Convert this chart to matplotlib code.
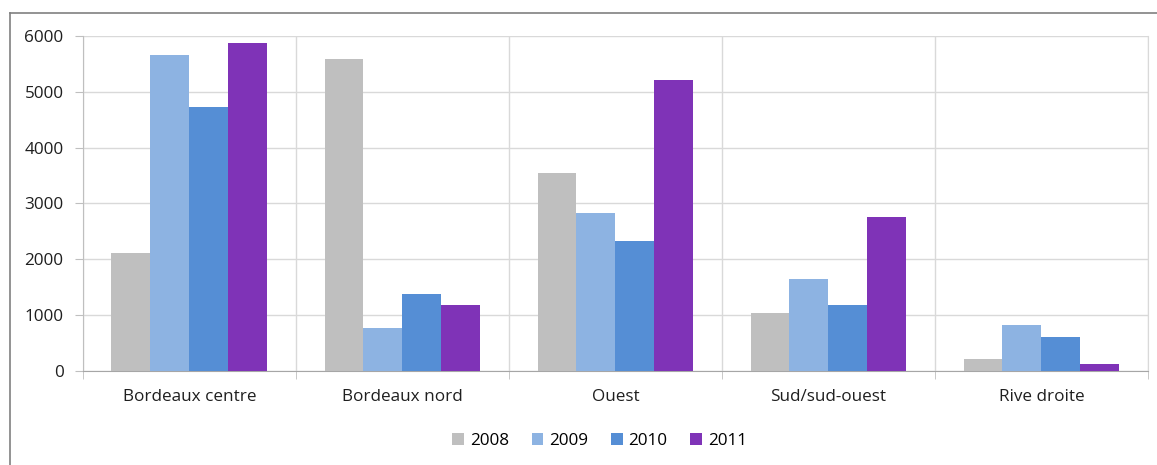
import matplotlib

matplotlib.use("Agg")
import matplotlib.pyplot as plt
import numpy as np
from matplotlib.lines import Line2D

plt.rcParams["font.family"] = ["Open Sans", "DejaVu Sans"]

categories = ["Bordeaux centre", "Bordeaux nord", "Ouest", "Sud/sud-ouest", "Rive droite"]
years = ["2008", "2009", "2010", "2011"]
values_2008 = [2120, 5590, 3550, 1045, 220]
values_2009 = [5660, 765, 2825, 1650, 825]
values_2010 = [4735, 1375, 2330, 1185, 615]
values_2011 = [5875, 1180, 5215, 2755, 120]
colors = ["#BFBFBF", "#8DB3E2", "#558ED5", "#7F33B7"]

series = [values_2008, values_2009, values_2010, values_2011]
text_color = "#1F1F1F"

fig = plt.figure(figsize=(11.57, 4.65), dpi=100)
ax = fig.add_axes([0.0717, 0.2022, 0.9205, 0.7204])

x = np.arange(len(categories))
width = 0.183
for i, (vals, year) in enumerate(zip(series, years)):
    ax.bar(x + (i - 1.5) * width, vals, width, color=colors[i], label=year, zorder=3)

ax.set_xlim(-0.5, len(categories) - 0.5)
ax.set_ylim(0, 6000)
ax.set_yticks(range(0, 6001, 1000))
ax.set_xticks(x)
ax.set_xticklabels(categories)
ax.set_xticks(np.arange(-0.5, len(categories), 1.0), minor=True)

ax.grid(axis="y", color="#D9D9D9", linewidth=1, zorder=0)
ax.grid(axis="x", which="minor", color="#D9D9D9", linewidth=1, zorder=0)
ax.tick_params(axis="x", which="major", length=0, pad=13, labelsize=12.3, colors=text_color)
ax.tick_params(axis="x", which="minor", length=6, color="#BFBFBF")
ax.tick_params(axis="y", length=6, color="#BFBFBF", labelsize=12.3, labelcolor=text_color, pad=8)

ax.spines["top"].set_visible(False)
ax.spines["right"].set_color("#D9D9D9")
ax.spines["left"].set_color("#BFBFBF")
ax.spines["bottom"].set_color("#A6A6A6")

ax.legend(loc="upper center", bbox_to_anchor=(0.485, -0.14), ncol=4, frameon=False,
          fontsize=12.3, handlelength=0.7, handleheight=0.7, handletextpad=0.35,
          columnspacing=1.3)

# outer chart frame (only top and left edges visible in the crop)
fig.add_artist(Line2D([10 / 1157, 1.0], [1 - 13 / 465, 1 - 13 / 465], color="#808080", linewidth=1.2))
fig.add_artist(Line2D([10 / 1157, 10 / 1157], [0, 1 - 13 / 465], color="#808080", linewidth=1.2))

fig.savefig("out.png", dpi=100)
